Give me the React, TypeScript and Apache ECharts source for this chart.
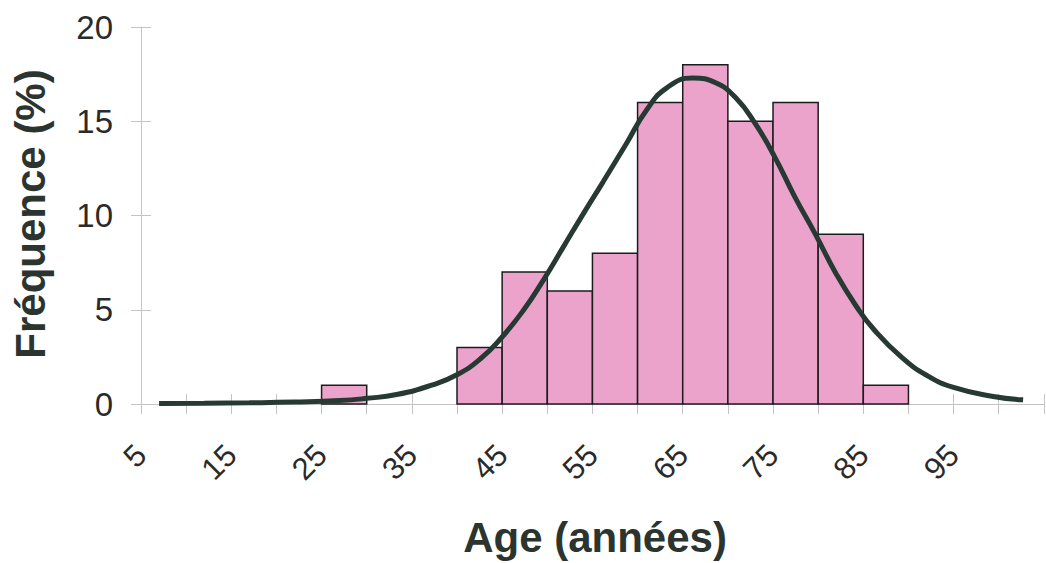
import React, { useEffect, useRef } from "react";
import * as echarts from "echarts";

// Histogram bins (age in years) and frequencies (%)
const binStart = [25, 40, 45, 50, 55, 60, 65, 70, 75, 80, 85];
const binEnd = [30, 45, 50, 55, 60, 65, 70, 75, 80, 85, 90];
const frequency = [1, 3, 7, 6, 8, 16, 18, 15, 16, 9, 1];

// Fitted curve, points
const curveAge = [7, 12, 17, 22, 27, 30, 33.3, 37.2, 40.1, 42.6, 44.9, 47.4, 49.6, 51.8, 54.0, 56.2, 58.8, 61.0, 63.2, 66.1, 68.7, 70.9, 73.0, 75.2, 77.4, 79.7, 82.0, 84.2, 86.2, 89.2, 92.1, 95.0, 99.4, 102.7];
const curveFreq = [0.03, 0.04, 0.06, 0.1, 0.18, 0.3, 0.5, 1.0, 1.58, 2.4, 3.5, 5.0, 6.6, 8.35, 10.1, 11.8, 13.85, 15.6, 16.76, 17.29, 17.03, 16.23, 14.9, 13.1, 11.0, 9.0, 6.9, 5.2, 3.94, 2.5, 1.5, 0.88, 0.4, 0.22];

const xLabelValues = [5, 15, 25, 35, 45, 55, 65, 75, 85, 95];
const yLabelValues = [0, 5, 10, 15, 20];

const xTitle = "Age (années)";
const yTitle = "Fréquence (%)";

const FONT = "'Liberation Sans', Arial, Helvetica, sans-serif";
const AXIS_GREY = "#c4c4c4";

export default function App() {
  const ref = useRef<HTMLDivElement>(null);

  useEffect(() => {
    if (!ref.current) return;
    const chart = echarts.init(ref.current, undefined, { renderer: "svg" });
    const barData = binStart.map((s, i) => [s, binEnd[i], frequency[i]]);
    const lineData = curveAge.map((a, i) => [a, curveFreq[i]]);

    const xCommon = {
      type: "value" as const,
      min: 5,
      max: 105,
      interval: 5,
      position: "bottom" as const,
      splitLine: { show: false },
    };
    const yCommon = {
      type: "value" as const,
      min: 0,
      max: 20,
      interval: 5,
      position: "left" as const,
      splitLine: { show: false },
    };

    chart.setOption({
      animation: false,
      backgroundColor: "#ffffff",
      grid: { left: 141, top: 27, right: -5, bottom: 159, containLabel: false },
      xAxis: [
        {
          ...xCommon,
          axisLine: { show: true, lineStyle: { color: AXIS_GREY, width: 1 } },
          axisTick: { show: true, inside: false, length: 10, lineStyle: { color: AXIS_GREY, width: 1 } },
          axisLabel: {
            show: true,
            rotate: 45,
            margin: 46,
            fontSize: 31,
            color: "#2a2a2a",
            fontFamily: FONT,
            formatter: (v: number) => (xLabelValues.indexOf(v) >= 0 ? String(v) : ""),
          },
        },
        {
          ...xCommon,
          axisLine: { show: false },
          axisTick: { show: true, inside: true, length: 10, lineStyle: { color: AXIS_GREY, width: 1 } },
          axisLabel: { show: false },
        },
      ],
      yAxis: [
        {
          ...yCommon,
          axisLine: { show: true, lineStyle: { color: AXIS_GREY, width: 1 } },
          axisTick: { show: true, inside: false, length: 10, lineStyle: { color: AXIS_GREY, width: 1 } },
          axisLabel: {
            show: true,
            margin: 28,
            fontSize: 33,
            color: "#2a2a2a",
            fontFamily: FONT,
            formatter: (v: number) => (yLabelValues.indexOf(v) >= 0 ? String(v) : ""),
          },
        },
        {
          ...yCommon,
          axisLine: { show: false },
          axisTick: { show: true, inside: true, length: 10, lineStyle: { color: AXIS_GREY, width: 1 } },
          axisLabel: { show: false },
        },
      ],
      graphic: [
        {
          type: "text",
          x: 595,
          y: 537,
          style: {
            text: xTitle,
            fontSize: 42,
            fontWeight: "bold",
            fontFamily: FONT,
            fill: "#2c3430",
            align: "center",
            verticalAlign: "middle",
          },
        },
        {
          type: "text",
          x: 30,
          y: 214,
          rotation: Math.PI / 2,
          style: {
            text: yTitle,
            fontSize: 42,
            fontWeight: "bold",
            fontFamily: FONT,
            fill: "#2c3430",
            align: "center",
            verticalAlign: "middle",
          },
        },
      ],
      series: [
        {
          type: "custom",
          xAxisIndex: 0,
          yAxisIndex: 0,
          data: barData,
          encode: { x: [0, 1], y: 2 },
          z: 2,
          renderItem: (params: any, api: any) => {
            const s = api.value(0);
            const e = api.value(1);
            const v = api.value(2);
            const p0 = api.coord([s, v]);
            const p1 = api.coord([e, 0]);
            return {
              type: "rect",
              shape: { x: p0[0], y: p0[1], width: p1[0] - p0[0], height: p1[1] - p0[1] },
              style: { fill: "#eca3cb", stroke: "#1c1c1c", lineWidth: 1.5 },
            };
          },
        },
        {
          type: "line",
          xAxisIndex: 0,
          yAxisIndex: 0,
          data: lineData,
          smooth: 0.5,
          symbol: "none",
          z: 5,
          lineStyle: { color: "#263a33", width: 5 },
        },
      ],
    });

    return () => chart.dispose();
  }, []);

  return (
    <div
      ref={ref}
      style={{ position: "fixed", left: 0, top: 0, width: 1046, height: 563, background: "#fff" }}
    />
  );
}
